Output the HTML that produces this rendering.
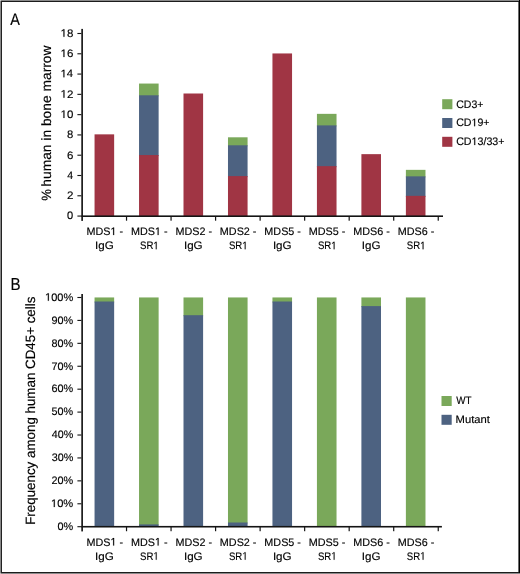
<!DOCTYPE html>
<html><head><meta charset="utf-8"><style>
html,body{margin:0;padding:0;background:#fff;}
svg{display:block;will-change:transform;}
text{font-family:"Liberation Sans", sans-serif;fill:#000000;stroke:#000000;stroke-width:0.15px;font-kerning:none;text-rendering:geometricPrecision;}
tspan.h{fill:none;stroke:none;}
path.one{fill:#000000;stroke:#000000;stroke-width:0.15px;}
</style></head><body>
<svg width="520" height="574" viewBox="0 0 520 574">
<rect x="0" y="0" width="520" height="574" fill="#fff"/>
<rect x="94.55" y="134.35" width="19.6" height="81.85" fill="#a03544"/>
<rect x="139.03" y="83.55" width="19.6" height="12.75" fill="#7aa85a"/>
<rect x="139.03" y="95.3" width="19.6" height="60.75" fill="#4d6281"/>
<rect x="139.03" y="155.05" width="19.6" height="61.15" fill="#a03544"/>
<rect x="183.5" y="93.5" width="19.6" height="122.7" fill="#a03544"/>
<rect x="227.98" y="137.3" width="19.6" height="9" fill="#7aa85a"/>
<rect x="227.98" y="145.3" width="19.6" height="31.8" fill="#4d6281"/>
<rect x="227.98" y="176.1" width="19.6" height="40.1" fill="#a03544"/>
<rect x="272.45" y="53.45" width="19.6" height="162.75" fill="#a03544"/>
<rect x="316.93" y="113.85" width="19.6" height="12.55" fill="#7aa85a"/>
<rect x="316.93" y="125.4" width="19.6" height="41.75" fill="#4d6281"/>
<rect x="316.93" y="166.15" width="19.6" height="50.05" fill="#a03544"/>
<rect x="361.4" y="154.15" width="19.6" height="62.05" fill="#a03544"/>
<rect x="405.88" y="169.85" width="19.6" height="7.5" fill="#7aa85a"/>
<rect x="405.88" y="176.35" width="19.6" height="20.5" fill="#4d6281"/>
<rect x="405.88" y="195.85" width="19.6" height="20.35" fill="#a03544"/>
<rect x="81.3" y="28.9" width="1.65" height="192" fill="#141414"/>
<rect x="81.3" y="215.4" width="361.7" height="1.6" fill="#141414"/>
<rect x="125.93" y="216.2" width="1.2" height="4.5" fill="#141414"/>
<rect x="170.46" y="216.2" width="1.2" height="4.5" fill="#141414"/>
<rect x="214.99" y="216.2" width="1.2" height="4.5" fill="#141414"/>
<rect x="259.52" y="216.2" width="1.2" height="4.5" fill="#141414"/>
<rect x="304.05" y="216.2" width="1.2" height="4.5" fill="#141414"/>
<rect x="348.58" y="216.2" width="1.2" height="4.5" fill="#141414"/>
<rect x="393.11" y="216.2" width="1.2" height="4.5" fill="#141414"/>
<rect x="437.64" y="216.2" width="1.2" height="4.5" fill="#141414"/>
<rect x="77.4" y="215.52" width="4" height="1.1" fill="#141414"/>
<text transform="translate(67.12,219.37) scale(1.0172,1)" font-size="10.9">0</text>
<rect x="77.4" y="195.23" width="4" height="1.1" fill="#141414"/>
<text transform="translate(66.96,199.08) scale(1.0673,1)" font-size="10.9">2</text>
<rect x="77.4" y="174.95" width="4" height="1.1" fill="#141414"/>
<text transform="translate(67.31,178.8) scale(0.9649,1)" font-size="10.9">4</text>
<rect x="77.4" y="154.66" width="4" height="1.1" fill="#141414"/>
<text transform="translate(66.97,158.51) scale(1.0538,1)" font-size="10.9">6</text>
<rect x="77.4" y="134.38" width="4" height="1.1" fill="#141414"/>
<text transform="translate(67.06,138.23) scale(1.0362,1)" font-size="10.9">8</text>
<rect x="77.4" y="114.09" width="4" height="1.1" fill="#141414"/>
<text transform="translate(60.55,117.94) scale(1.0517,1)" font-size="10.9"><tspan class="h">1</tspan>0</text>
<path class="one" transform="translate(60.55,117.94) scale(1.0517,1)" d="M2.74 0L2.74 -6.58L1.05 -5.38L1.05 -6.28L2.82 -7.5L3.7 -7.5L3.7 0Z"/>
<rect x="77.4" y="93.8" width="4" height="1.1" fill="#141414"/>
<text transform="translate(60.53,97.65) scale(1.0639,1)" font-size="10.9"><tspan class="h">1</tspan>2</text>
<path class="one" transform="translate(60.53,97.65) scale(1.0639,1)" d="M2.74 0L2.74 -6.58L1.05 -5.38L1.05 -6.28L2.82 -7.5L3.7 -7.5L3.7 0Z"/>
<rect x="77.4" y="73.52" width="4" height="1.1" fill="#141414"/>
<text transform="translate(60.56,77.37) scale(1.0413,1)" font-size="10.9"><tspan class="h">1</tspan>4</text>
<path class="one" transform="translate(60.56,77.37) scale(1.0413,1)" d="M2.74 0L2.74 -6.58L1.05 -5.38L1.05 -6.28L2.82 -7.5L3.7 -7.5L3.7 0Z"/>
<rect x="77.4" y="53.23" width="4" height="1.1" fill="#141414"/>
<text transform="translate(60.54,57.08) scale(1.0569,1)" font-size="10.9"><tspan class="h">1</tspan>6</text>
<path class="one" transform="translate(60.54,57.08) scale(1.0569,1)" d="M2.74 0L2.74 -6.58L1.05 -5.38L1.05 -6.28L2.82 -7.5L3.7 -7.5L3.7 0Z"/>
<rect x="77.4" y="32.95" width="4" height="1.1" fill="#141414"/>
<text transform="translate(60.54,36.8) scale(1.0564,1)" font-size="10.9"><tspan class="h">1</tspan>8</text>
<path class="one" transform="translate(60.54,36.8) scale(1.0564,1)" d="M2.74 0L2.74 -6.58L1.05 -5.38L1.05 -6.28L2.82 -7.5L3.7 -7.5L3.7 0Z"/>
<text transform="translate(86.44,235.1) scale(0.9912,1)" font-size="10.9">MDS<tspan class="h">1</tspan> -</text>
<path class="one" transform="translate(86.44,235.1) scale(0.9912,1)" d="M26.96 0L26.96 -6.58L25.27 -5.38L25.27 -6.28L27.04 -7.5L27.93 -7.5L27.93 0Z"/>
<text transform="translate(94.98,249.3) scale(1.0668,1)" font-size="10.9">IgG</text>
<text transform="translate(130.91,235.1) scale(0.9912,1)" font-size="10.9">MDS<tspan class="h">1</tspan> -</text>
<path class="one" transform="translate(130.91,235.1) scale(0.9912,1)" d="M26.96 0L26.96 -6.58L25.27 -5.38L25.27 -6.28L27.04 -7.5L27.93 -7.5L27.93 0Z"/>
<text transform="translate(139.99,249.3) scale(0.8828,1)" font-size="10.9">SR<tspan class="h">1</tspan></text>
<path class="one" transform="translate(139.99,249.3) scale(0.8828,1)" d="M17.88 0L17.88 -6.58L16.19 -5.38L16.19 -6.28L17.96 -7.5L18.85 -7.5L18.85 0Z"/>
<text transform="translate(175.39,235.1) scale(0.9912,1)" font-size="10.9">MDS2 -</text>
<text transform="translate(183.93,249.3) scale(1.0668,1)" font-size="10.9">IgG</text>
<text transform="translate(219.86,235.1) scale(0.9912,1)" font-size="10.9">MDS2 -</text>
<text transform="translate(228.94,249.3) scale(0.8828,1)" font-size="10.9">SR<tspan class="h">1</tspan></text>
<path class="one" transform="translate(228.94,249.3) scale(0.8828,1)" d="M17.88 0L17.88 -6.58L16.19 -5.38L16.19 -6.28L17.96 -7.5L18.85 -7.5L18.85 0Z"/>
<text transform="translate(264.34,235.1) scale(0.9912,1)" font-size="10.9">MDS5 -</text>
<text transform="translate(272.88,249.3) scale(1.0668,1)" font-size="10.9">IgG</text>
<text transform="translate(308.81,235.1) scale(0.9912,1)" font-size="10.9">MDS5 -</text>
<text transform="translate(317.89,249.3) scale(0.8828,1)" font-size="10.9">SR<tspan class="h">1</tspan></text>
<path class="one" transform="translate(317.89,249.3) scale(0.8828,1)" d="M17.88 0L17.88 -6.58L16.19 -5.38L16.19 -6.28L17.96 -7.5L18.85 -7.5L18.85 0Z"/>
<text transform="translate(353.29,235.1) scale(0.9912,1)" font-size="10.9">MDS6 -</text>
<text transform="translate(361.83,249.3) scale(1.0668,1)" font-size="10.9">IgG</text>
<text transform="translate(397.76,235.1) scale(0.9912,1)" font-size="10.9">MDS6 -</text>
<text transform="translate(406.84,249.3) scale(0.8828,1)" font-size="10.9">SR<tspan class="h">1</tspan></text>
<path class="one" transform="translate(406.84,249.3) scale(0.8828,1)" d="M17.88 0L17.88 -6.58L16.19 -5.38L16.19 -6.28L17.96 -7.5L18.85 -7.5L18.85 0Z"/>
<text transform="translate(51.2,194.8) rotate(-90) translate(-5.87,0) scale(0.9781,1)" font-size="13.5">%</text>
<text transform="translate(51.2,115.6) rotate(-90) translate(-71.06,0) scale(1.0221,1)" font-size="13.5">human in bone marrow</text>
<rect x="94.55" y="297.45" width="19.6" height="5.05" fill="#7aa85a"/>
<rect x="94.55" y="301.5" width="19.6" height="225.22" fill="#4d6281"/>
<rect x="139.03" y="297.45" width="19.6" height="227.95" fill="#7aa85a"/>
<rect x="139.03" y="524.4" width="19.6" height="2.32" fill="#4d6281"/>
<rect x="183.5" y="297.45" width="19.6" height="18.75" fill="#7aa85a"/>
<rect x="183.5" y="315.2" width="19.6" height="211.52" fill="#4d6281"/>
<rect x="227.98" y="297.45" width="19.6" height="226.05" fill="#7aa85a"/>
<rect x="227.98" y="522.5" width="19.6" height="4.22" fill="#4d6281"/>
<rect x="272.45" y="297.45" width="19.6" height="5.05" fill="#7aa85a"/>
<rect x="272.45" y="301.5" width="19.6" height="225.22" fill="#4d6281"/>
<rect x="316.93" y="297.45" width="19.6" height="229.27" fill="#7aa85a"/>
<rect x="361.4" y="297.45" width="19.6" height="9.65" fill="#7aa85a"/>
<rect x="361.4" y="306.1" width="19.6" height="220.62" fill="#4d6281"/>
<rect x="405.88" y="297.45" width="19.6" height="229.27" fill="#7aa85a"/>
<rect x="81.3" y="294" width="1.65" height="237.42" fill="#141414"/>
<rect x="81.3" y="525.92" width="360.6" height="1.6" fill="#141414"/>
<rect x="125.93" y="526.72" width="1.2" height="4.5" fill="#141414"/>
<rect x="170.46" y="526.72" width="1.2" height="4.5" fill="#141414"/>
<rect x="214.99" y="526.72" width="1.2" height="4.5" fill="#141414"/>
<rect x="259.52" y="526.72" width="1.2" height="4.5" fill="#141414"/>
<rect x="304.05" y="526.72" width="1.2" height="4.5" fill="#141414"/>
<rect x="348.58" y="526.72" width="1.2" height="4.5" fill="#141414"/>
<rect x="393.11" y="526.72" width="1.2" height="4.5" fill="#141414"/>
<rect x="437.64" y="526.72" width="1.2" height="4.5" fill="#141414"/>
<rect x="77.4" y="526.15" width="4" height="1.1" fill="#141414"/>
<text transform="translate(57.53,530) scale(0.9973,1)" font-size="10.9">0%</text>
<rect x="77.4" y="503.23" width="4" height="1.1" fill="#141414"/>
<text transform="translate(50.98,507.08) scale(1.0207,1)" font-size="10.9"><tspan class="h">1</tspan>0%</text>
<path class="one" transform="translate(50.98,507.08) scale(1.0207,1)" d="M2.74 0L2.74 -6.58L1.05 -5.38L1.05 -6.28L2.82 -7.5L3.7 -7.5L3.7 0Z"/>
<rect x="77.4" y="480.31" width="4" height="1.1" fill="#141414"/>
<text transform="translate(51.5,484.16) scale(0.9962,1)" font-size="10.9">20%</text>
<rect x="77.4" y="457.39" width="4" height="1.1" fill="#141414"/>
<text transform="translate(51.64,461.24) scale(0.9899,1)" font-size="10.9">30%</text>
<rect x="77.4" y="434.47" width="4" height="1.1" fill="#141414"/>
<text transform="translate(51.8,438.32) scale(0.9822,1)" font-size="10.9">40%</text>
<rect x="77.4" y="411.55" width="4" height="1.1" fill="#141414"/>
<text transform="translate(51.62,415.4) scale(0.9909,1)" font-size="10.9">50%</text>
<rect x="77.4" y="388.63" width="4" height="1.1" fill="#141414"/>
<text transform="translate(51.5,392.48) scale(0.9965,1)" font-size="10.9">60%</text>
<rect x="77.4" y="365.71" width="4" height="1.1" fill="#141414"/>
<text transform="translate(51.49,369.56) scale(0.9967,1)" font-size="10.9">70%</text>
<rect x="77.4" y="342.79" width="4" height="1.1" fill="#141414"/>
<text transform="translate(51.58,346.64) scale(0.9927,1)" font-size="10.9">80%</text>
<rect x="77.4" y="319.87" width="4" height="1.1" fill="#141414"/>
<text transform="translate(51.54,323.72) scale(0.9944,1)" font-size="10.9">90%</text>
<rect x="77.4" y="296.95" width="4" height="1.1" fill="#141414"/>
<text transform="translate(45.09,300.8) scale(1.0098,1)" font-size="10.9"><tspan class="h">1</tspan>00%</text>
<path class="one" transform="translate(45.09,300.8) scale(1.0098,1)" d="M2.74 0L2.74 -6.58L1.05 -5.38L1.05 -6.28L2.82 -7.5L3.7 -7.5L3.7 0Z"/>
<text transform="translate(86.44,545.6) scale(0.9912,1)" font-size="10.9">MDS<tspan class="h">1</tspan> -</text>
<path class="one" transform="translate(86.44,545.6) scale(0.9912,1)" d="M26.96 0L26.96 -6.58L25.27 -5.38L25.27 -6.28L27.04 -7.5L27.93 -7.5L27.93 0Z"/>
<text transform="translate(94.98,559.7) scale(1.0668,1)" font-size="10.9">IgG</text>
<text transform="translate(130.91,545.6) scale(0.9912,1)" font-size="10.9">MDS<tspan class="h">1</tspan> -</text>
<path class="one" transform="translate(130.91,545.6) scale(0.9912,1)" d="M26.96 0L26.96 -6.58L25.27 -5.38L25.27 -6.28L27.04 -7.5L27.93 -7.5L27.93 0Z"/>
<text transform="translate(139.99,559.7) scale(0.8828,1)" font-size="10.9">SR<tspan class="h">1</tspan></text>
<path class="one" transform="translate(139.99,559.7) scale(0.8828,1)" d="M17.88 0L17.88 -6.58L16.19 -5.38L16.19 -6.28L17.96 -7.5L18.85 -7.5L18.85 0Z"/>
<text transform="translate(175.39,545.6) scale(0.9912,1)" font-size="10.9">MDS2 -</text>
<text transform="translate(183.93,559.7) scale(1.0668,1)" font-size="10.9">IgG</text>
<text transform="translate(219.86,545.6) scale(0.9912,1)" font-size="10.9">MDS2 -</text>
<text transform="translate(228.94,559.7) scale(0.8828,1)" font-size="10.9">SR<tspan class="h">1</tspan></text>
<path class="one" transform="translate(228.94,559.7) scale(0.8828,1)" d="M17.88 0L17.88 -6.58L16.19 -5.38L16.19 -6.28L17.96 -7.5L18.85 -7.5L18.85 0Z"/>
<text transform="translate(264.34,545.6) scale(0.9912,1)" font-size="10.9">MDS5 -</text>
<text transform="translate(272.88,559.7) scale(1.0668,1)" font-size="10.9">IgG</text>
<text transform="translate(308.81,545.6) scale(0.9912,1)" font-size="10.9">MDS5 -</text>
<text transform="translate(317.89,559.7) scale(0.8828,1)" font-size="10.9">SR<tspan class="h">1</tspan></text>
<path class="one" transform="translate(317.89,559.7) scale(0.8828,1)" d="M17.88 0L17.88 -6.58L16.19 -5.38L16.19 -6.28L17.96 -7.5L18.85 -7.5L18.85 0Z"/>
<text transform="translate(353.29,545.6) scale(0.9912,1)" font-size="10.9">MDS6 -</text>
<text transform="translate(361.83,559.7) scale(1.0668,1)" font-size="10.9">IgG</text>
<text transform="translate(397.76,545.6) scale(0.9912,1)" font-size="10.9">MDS6 -</text>
<text transform="translate(406.84,559.7) scale(0.8828,1)" font-size="10.9">SR<tspan class="h">1</tspan></text>
<path class="one" transform="translate(406.84,559.7) scale(0.8828,1)" d="M17.88 0L17.88 -6.58L16.19 -5.38L16.19 -6.28L17.96 -7.5L18.85 -7.5L18.85 0Z"/>
<text transform="translate(34.6,410.4) rotate(-90) translate(-114.4,0) scale(0.9889,1)" font-size="13.5">Frequency among human CD45+ cells</text>
<text transform="translate(10.37,25) scale(0.8618,1)" font-size="16.8">A</text>
<text transform="translate(10.56,289.9) scale(0.8693,1)" font-size="17.4">B</text>
<rect x="442.2" y="99.2" width="10.2" height="10" fill="#7aa85a"/>
<text transform="translate(456.16,107.5) scale(0.9675,1)" font-size="10.9">CD3+</text>
<rect x="442.2" y="118" width="10.2" height="10" fill="#4d6281"/>
<text transform="translate(456.16,126.2) scale(0.9746,1)" font-size="10.9">CD<tspan class="h">1</tspan>9+</text>
<path class="one" transform="translate(456.16,126.2) scale(0.9746,1)" d="M18.48 0L18.48 -6.58L16.79 -5.38L16.79 -6.28L18.56 -7.5L19.45 -7.5L19.45 0Z"/>
<rect x="442.2" y="136.8" width="10.2" height="10" fill="#a03544"/>
<text transform="translate(456.16,145.1) scale(0.9794,1)" font-size="10.9">CD<tspan class="h">1</tspan>3/33+</text>
<path class="one" transform="translate(456.16,145.1) scale(0.9794,1)" d="M18.48 0L18.48 -6.58L16.79 -5.38L16.79 -6.28L18.56 -7.5L19.45 -7.5L19.45 0Z"/>
<rect x="441.5" y="396" width="10.2" height="10" fill="#7aa85a"/>
<text transform="translate(456.21,404.1) scale(0.9040,1)" font-size="10.9">WT</text>
<rect x="441.5" y="414.8" width="10.2" height="10" fill="#4d6281"/>
<text transform="translate(455.58,422.9) scale(1.0325,1)" font-size="10.9">Mutant</text>
<rect x="0" y="0" width="520" height="1" fill="#8a8a8a"/>
<rect x="0" y="573" width="520" height="1" fill="#8a8a8a"/>
<rect x="0" y="0" width="1" height="574" fill="#888888"/>
<rect x="1" y="1" width="518" height="1" fill="#1c1c1c"/>
<rect x="1" y="572" width="518" height="1" fill="#1c1c1c"/>
<rect x="1" y="1" width="1" height="572" fill="#222222"/>
<rect x="518" y="2" width="1" height="570" fill="#6a6a6a"/>
<rect x="519" y="0" width="1" height="574" fill="#000000"/>
<rect x="0" y="0" width="1" height="1" fill="#c8c8c8"/>
<rect x="0" y="573" width="1" height="1" fill="#c0c0c0"/>
<rect x="519" y="573" width="1" height="1" fill="#888888"/>
</svg>
</body></html>
